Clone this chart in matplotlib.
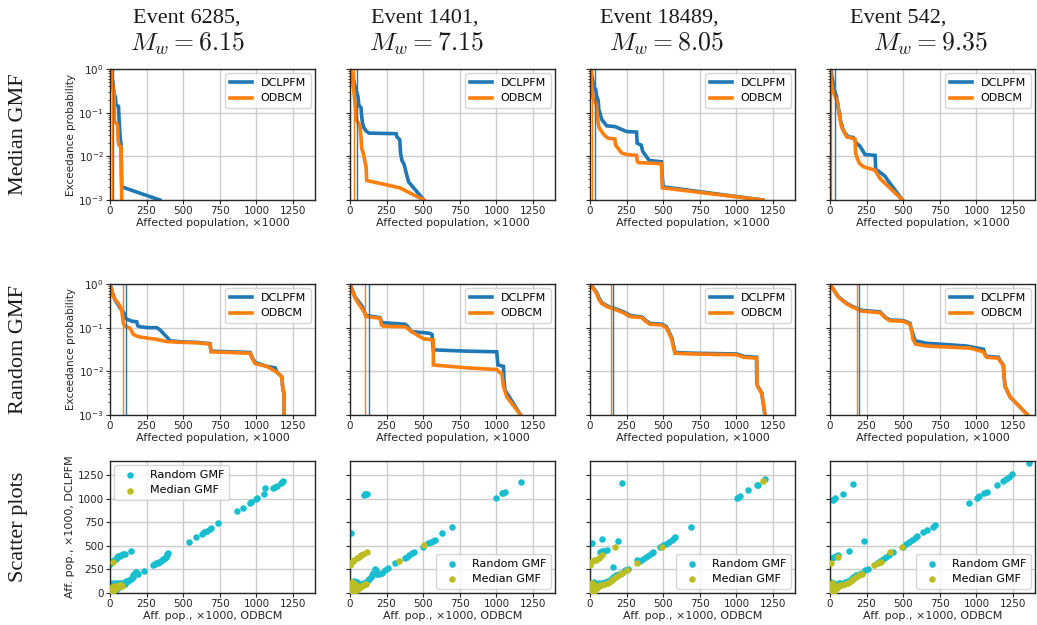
import matplotlib
matplotlib.use("Agg")
import matplotlib.pyplot as plt
import numpy as np

# ---------------- data ----------------
events = ["6285", "1401", "18489", "542"]
magnitudes = ["6.15", "7.15", "8.05", "9.35"]
row_labels = ["Median GMF", "Random GMF", "Scatter plots"]
model_names = ["DCLPFM", "ODBCM"]
scatter_names = ["Random GMF", "Median GMF"]
ticks_pop = [0, 250, 500, 750, 1000, 1250]

# Row 1: median GMF exceedance curves (x in thousands, p exceedance)
med_6285_d_x = [10, 12, 22, 24, 38, 40, 58, 62, 70, 75, 78, 80, 340]
med_6285_d_p = [1.0, 0.7, 0.45, 0.3, 0.22, 0.15, 0.14, 0.07, 0.025, 0.02, 0.005, 0.002, 0.001]
med_6285_o_x = [8, 10, 28, 30, 48, 52, 56, 62, 76, 80]
med_6285_o_p = [1.0, 0.6, 0.3, 0.062, 0.056, 0.05, 0.022, 0.018, 0.016, 0.001]

med_1401_d_x = [8, 12, 28, 34, 45, 55, 60, 75, 80, 86, 95, 110, 130, 315, 320, 340, 345, 355, 370, 378, 390, 400, 505]
med_1401_d_p = [1.0, 0.7, 0.5, 0.4, 0.3, 0.23, 0.15, 0.13, 0.08, 0.057, 0.045, 0.038, 0.034, 0.033, 0.028, 0.024,
                0.012, 0.008, 0.0065, 0.005, 0.0035, 0.0026, 0.001]
med_1401_o_x = [8, 10, 22, 28, 40, 46, 60, 68, 74, 80, 90, 96, 104, 110, 112, 114, 340, 505]
med_1401_o_p = [1.0, 0.7, 0.4, 0.28, 0.1, 0.068, 0.055, 0.05, 0.03, 0.015, 0.012, 0.0098, 0.007, 0.0058, 0.004,
                0.0028, 0.0019, 0.001]

med_18489_d_x = [8, 12, 22, 26, 40, 44, 56, 60, 68, 80, 91, 114, 170, 250, 318, 322, 350, 360, 399, 410, 488, 492, 500, 1180]
med_18489_d_p = [1.0, 0.7, 0.47, 0.4, 0.33, 0.25, 0.19, 0.12, 0.097, 0.07, 0.063, 0.05, 0.048, 0.037, 0.036, 0.02,
                 0.018, 0.013, 0.0085, 0.008, 0.0075, 0.004, 0.002, 0.001]
med_18489_o_x = [4, 6, 16, 20, 44, 48, 56, 62, 80, 100, 125, 170, 175, 194, 215, 251, 318, 322, 330, 488, 494, 1180]
med_18489_o_p = [1.0, 0.6, 0.3, 0.22, 0.15, 0.1, 0.057, 0.045, 0.037, 0.03, 0.026, 0.025, 0.018, 0.015, 0.012, 0.011,
                 0.0105, 0.0078, 0.0072, 0.0068, 0.0019, 0.001]

med_542_d_x = [8, 12, 26, 30, 45, 50, 66, 70, 90, 100, 125, 160, 180, 205, 239, 308, 312, 330, 376, 395, 410, 495]
med_542_d_p = [1.0, 0.7, 0.39, 0.33, 0.23, 0.15, 0.097, 0.07, 0.04, 0.035, 0.028, 0.027, 0.02, 0.017, 0.011, 0.0105,
               0.005, 0.0046, 0.0035, 0.0028, 0.0024, 0.001]
med_542_o_x = [4, 6, 18, 22, 55, 60, 78, 82, 114, 171, 175, 182, 200, 228, 308, 342, 495]
med_542_o_p = [1.0, 0.6, 0.33, 0.3, 0.164, 0.1, 0.05, 0.045, 0.028, 0.025, 0.012, 0.0098, 0.007, 0.0058, 0.0048,
               0.0031, 0.001]

# Row 2: random GMF exceedance curves
rnd_6285_d_x = [0, 20, 34, 50, 64, 80, 91, 100, 109, 150, 182, 190, 205, 260, 319, 340, 364, 390, 410, 500, 600, 683,
                690, 957, 970, 991, 1071, 1128, 1140, 1173, 1180, 1189, 1189]
rnd_6285_d_p = [1.0, 0.6, 0.43, 0.36, 0.3, 0.25, 0.23, 0.2, 0.16, 0.14, 0.137, 0.11, 0.105, 0.1, 0.1, 0.09, 0.074,
                0.06, 0.05, 0.047, 0.046, 0.043, 0.029, 0.027, 0.021, 0.016, 0.013, 0.012, 0.0095, 0.0075, 0.0041,
                0.003, 0.001]
rnd_6285_o_x = [0, 23, 40, 57, 75, 80, 91, 100, 137, 160, 194, 250, 319, 387, 500, 600, 683, 690, 957, 970, 991, 1071,
                1110, 1150, 1173, 1180, 1189, 1189]
rnd_6285_o_p = [1.0, 0.51, 0.42, 0.36, 0.28, 0.25, 0.126, 0.11, 0.097, 0.07, 0.062, 0.058, 0.054, 0.048, 0.046, 0.045,
                0.042, 0.028, 0.026, 0.02, 0.015, 0.013, 0.011, 0.009, 0.0075, 0.0041, 0.003, 0.001]

rnd_1401_d_x = [0, 34, 50, 68, 85, 103, 110, 205, 215, 223, 376, 390, 421, 500, 546, 560, 569, 800, 1002, 1010, 1048,
                1052, 1059, 1165]
rnd_1401_d_p = [1.0, 0.51, 0.43, 0.36, 0.3, 0.21, 0.19, 0.17, 0.14, 0.13, 0.12, 0.11, 0.081, 0.077, 0.074, 0.07,
                0.031, 0.029, 0.028, 0.014, 0.013, 0.006, 0.0037, 0.001]
rnd_1401_o_x = [0, 30, 57, 80, 103, 110, 205, 216, 230, 376, 390, 421, 500, 569, 569, 800, 1002, 1020, 1037, 1048,
                1071, 1165]
rnd_1401_o_p = [1.0, 0.52, 0.36, 0.28, 0.21, 0.18, 0.164, 0.115, 0.108, 0.105, 0.098, 0.081, 0.056, 0.052, 0.014,
                0.012, 0.011, 0.0095, 0.0089, 0.0045, 0.0026, 0.001]

rnd_18489_d_x = [0, 22, 48, 62, 82, 122, 162, 202, 230, 262, 275, 355, 382, 412, 492, 522, 537, 560, 568, 582, 700,
                 1002, 1052, 1137, 1139, 1145, 1173, 1195]
rnd_18489_d_p = [1.0, 0.82, 0.62, 0.47, 0.37, 0.31, 0.28, 0.25, 0.23, 0.2, 0.19, 0.175, 0.145, 0.125, 0.12, 0.105,
                 0.083, 0.057, 0.041, 0.027, 0.026, 0.025, 0.022, 0.021, 0.0052, 0.0046, 0.0032, 0.001]
rnd_18489_o_x = [0, 20, 46, 60, 80, 120, 160, 200, 228, 260, 273, 353, 380, 410, 490, 520, 535, 558, 566, 580, 700,
                 1002, 1050, 1139, 1141, 1145, 1173, 1195]
rnd_18489_o_p = [1.0, 0.8, 0.6, 0.45, 0.36, 0.3, 0.27, 0.24, 0.22, 0.19, 0.18, 0.17, 0.14, 0.12, 0.115, 0.1, 0.08,
                 0.055, 0.04, 0.026, 0.025, 0.024, 0.021, 0.02, 0.005, 0.0045, 0.0031, 0.001]

rnd_542_d_x = [0, 30, 57, 85, 114, 150, 182, 216, 342, 380, 410, 501, 546, 556, 562, 581, 660, 934, 1048, 1060, 1071,
               1150, 1160, 1184, 1188, 1196, 1230, 1350]
rnd_542_d_p = [1.0, 0.7, 0.51, 0.43, 0.36, 0.31, 0.28, 0.25, 0.23, 0.17, 0.15, 0.145, 0.126, 0.09, 0.08, 0.05, 0.044,
               0.038, 0.032, 0.024, 0.022, 0.021, 0.018, 0.014, 0.008, 0.0045, 0.0026, 0.001]
rnd_542_o_x = [0, 30, 57, 85, 114, 150, 182, 216, 342, 380, 410, 501, 546, 558, 566, 584, 660, 957, 1048, 1060, 1071,
               1150, 1160, 1184, 1188, 1196, 1230, 1350]
rnd_542_o_p = [1.0, 0.69, 0.5, 0.42, 0.35, 0.3, 0.27, 0.24, 0.22, 0.165, 0.145, 0.14, 0.12, 0.085, 0.055, 0.042,
               0.038, 0.034, 0.028, 0.023, 0.021, 0.02, 0.0175, 0.0135, 0.008, 0.0045, 0.0026, 0.001]

# Mean affected population (vertical lines): [DCLPFM, ODBCM]
med_means = [[22, 11], [46, 27], [36, 14], [32, 9]]
rnd_means = [[107, 87], [132, 102], [157, 143], [196, 182]]

# Row 3: scatter (x = ODBCM, y = DCLPFM)
sc_6285_r_x = [3, 10, 18, 28, 38, 48, 58, 68, 78, 90, 100, 140,
               2, 5, 8, 10, 15, 20, 25, 30, 35, 45, 50, 55, 60, 70, 80, 90, 100, 110, 120, 130, 140, 150, 155, 160,
               165, 170, 175, 180, 185, 190, 235, 20, 40, 60, 80, 100,
               295, 305, 315, 325, 335, 345, 355, 365, 375, 385, 390, 392, 395,
               540, 590, 630, 645, 660, 680, 690, 740, 870, 905, 955, 965, 995, 1005, 1050, 1060, 1110, 1125, 1140,
               1165, 1175, 1180]
sc_6285_r_y = [310, 320, 335, 350, 365, 378, 388, 395, 400, 410, 412, 450,
               5, 30, 60, 100, 110, 90, 100, 70, 105, 95, 40, 110, 80, 105, 90, 110, 120, 130, 125, 140, 150, 160,
               175, 190, 200, 215, 225, 220, 210, 200, 235, 20, 45, 62, 85, 100,
               300, 305, 315, 322, 330, 340, 350, 360, 372, 385, 400, 415, 425,
               540, 595, 630, 645, 660, 680, 690, 745, 865, 905, 955, 965, 995, 1010, 1050, 1115, 1115, 1125, 1140,
               1165, 1175, 1185]
sc_6285_m_x = [23, 2, 5, 8, 10, 12, 15, 18, 20, 25, 30, 35, 40, 45, 50, 55, 60, 65, 70, 75, 80]
sc_6285_m_y = [332, 3, 15, 25, 40, 55, 65, 20, 45, 70, 35, 55, 60, 50, 75, 60, 70, 80, 75, 80, 70]

sc_1401_r_x = [5, 95, 100, 105, 110, 115,
               2, 5, 8, 10, 15, 20, 25, 30, 35, 40, 45, 50, 60, 70, 80, 90, 100, 110, 120, 130, 140, 150, 160, 170,
               175, 185, 200, 220, 240, 260,
               307, 376, 390, 405, 420, 440, 501, 535, 550, 565, 580, 626, 695,
               1000, 1036, 1045, 1059, 1166]
sc_1401_r_y = [640, 1040, 1045, 1050, 1052, 1055,
               10, 50, 90, 120, 100, 110, 130, 60, 115, 100, 120, 90, 85, 95, 100, 105, 110, 115, 135, 150, 170, 190,
               210, 250, 240, 200, 200, 215, 240, 260,
               314, 367, 385, 405, 425, 440, 491, 527, 545, 555, 562, 632, 696,
               1005, 1057, 1065, 1074, 1173]
sc_1401_m_x = [2, 5, 8, 10, 12, 15, 20, 25, 30, 35, 40, 45, 50, 60, 70, 80, 90, 100, 110,
               3, 10, 20, 30, 45, 60, 75, 90, 114, 335, 508]
sc_1401_m_y = [5, 30, 60, 90, 120, 40, 70, 100, 20, 50, 80, 30, 60, 50, 65, 75, 85, 95, 100,
               300, 320, 340, 355, 370, 385, 400, 415, 431, 339, 505]

sc_18489_r_x = [11, 80, 194, 216, 68, 80, 95, 114,
                2, 5, 8, 10, 15, 20, 25, 30, 40, 50, 60, 70, 80, 100, 120, 140, 160, 160, 170, 180, 200, 220, 240, 260,
                319, 340, 360, 380, 400, 420, 433, 478, 500, 520, 540, 560, 575, 581, 690,
                1002, 1015, 1025, 1082, 1139, 1145, 1196]
sc_18489_r_y = [526, 569, 551, 1162, 438, 445, 450, 456,
                10, 40, 80, 100, 90, 110, 120, 70, 100, 95, 110, 100, 105, 115, 130, 150, 279, 170, 180, 190, 200, 215,
                240, 255,
                350, 340, 360, 385, 405, 425, 438, 491, 505, 520, 545, 565, 580, 597, 696,
                1010, 1020, 1031, 1092, 1145, 1150, 1205]
sc_18489_m_x = [2, 5, 8, 10, 15, 20, 25, 30, 40, 50, 60, 70, 80, 100, 120, 140, 160, 180, 200, 220, 250,
                3, 10, 25, 40, 60, 80, 171, 319, 490, 1180]
sc_18489_m_y = [5, 30, 60, 90, 110, 40, 80, 20, 60, 50, 70, 80, 85, 100, 110, 130, 150, 170, 190, 210, 240,
                300, 330, 345, 355, 370, 403, 491, 322, 491, 1187]

sc_542_r_x = [23, 28, 34, 91, 155, 11, 25, 40, 57, 132, 235,
              2, 5, 8, 10, 15, 20, 30, 40, 50, 60, 70, 80, 100, 120, 140, 160, 180, 200, 220, 240, 260,
              319, 340, 360, 380, 400, 433, 501, 520, 540, 560, 580, 592, 638, 660, 700, 718,
              952, 1002, 1020, 1050, 1071, 1139, 1184, 1200, 1220, 1241, 1362]
sc_542_r_y = [986, 995, 1004, 1049, 1152, 367, 380, 395, 403, 449, 551,
              10, 50, 100, 120, 90, 110, 70, 100, 95, 110, 105, 100, 120, 130, 150, 170, 190, 200, 215, 240, 255,
              322, 340, 360, 385, 405, 438, 491, 520, 545, 565, 580, 604, 650, 665, 705, 721,
              958, 1010, 1030, 1065, 1074, 1145, 1191, 1205, 1230, 1262, 1375]
sc_542_m_x = [2, 5, 8, 10, 15, 20, 25, 30, 40, 50, 60, 70, 80, 100, 120, 140, 160, 180, 200, 220,
              5, 57, 300, 330, 350, 410, 490]
sc_542_m_y = [5, 30, 60, 90, 110, 40, 80, 20, 60, 50, 70, 80, 85, 100, 110, 130, 150, 170, 190, 200,
              322, 378, 300, 322, 330, 438, 491]

med_curves = [
    (med_6285_d_x, med_6285_d_p, med_6285_o_x, med_6285_o_p),
    (med_1401_d_x, med_1401_d_p, med_1401_o_x, med_1401_o_p),
    (med_18489_d_x, med_18489_d_p, med_18489_o_x, med_18489_o_p),
    (med_542_d_x, med_542_d_p, med_542_o_x, med_542_o_p),
]
rnd_curves = [
    (rnd_6285_d_x, rnd_6285_d_p, rnd_6285_o_x, rnd_6285_o_p),
    (rnd_1401_d_x, rnd_1401_d_p, rnd_1401_o_x, rnd_1401_o_p),
    (rnd_18489_d_x, rnd_18489_d_p, rnd_18489_o_x, rnd_18489_o_p),
    (rnd_542_d_x, rnd_542_d_p, rnd_542_o_x, rnd_542_o_p),
]
scatters = [
    (sc_6285_r_x, sc_6285_r_y, sc_6285_m_x, sc_6285_m_y),
    (sc_1401_r_x, sc_1401_r_y, sc_1401_m_x, sc_1401_m_y),
    (sc_18489_r_x, sc_18489_r_y, sc_18489_m_x, sc_18489_m_y),
    (sc_542_r_x, sc_542_r_y, sc_542_m_x, sc_542_m_y),
]

# ---------------- style ----------------
plt.rcParams.update({
    "font.family": ["DejaVu Sans"],
    "mathtext.fontset": "cm",
    "axes.edgecolor": "#262626",
    "axes.linewidth": 1.0,
    "grid.color": "#cccccc",
    "grid.linewidth": 1.0,
    "xtick.color": "#262626",
    "ytick.color": "#262626",
    "xtick.labelsize": 7.5,
    "ytick.labelsize": 7.5,
    "xtick.major.size": 3,
    "ytick.major.size": 3,
    "ytick.minor.size": 1.8,
    "axes.labelcolor": "#262626",
})

BLUE = "#1f77b4"
ORANGE = "#ff7f0e"
CYAN = "#17becf"
OLIVE = "#bcbd22"
SERIF = ["Liberation Serif", "DejaVu Serif"]

W, H = 1037, 625
fig = plt.figure(figsize=(W / 100, H / 100), dpi=100)

lefts = [110, 350, 590, 830]
axw = 205
row_tb = [(69, 200), (284, 415), (461, 593)]
# title line centres (pixels) as laid out in the original
title1_cx = [187, 425, 659, 898]
title2_cx = [187, 426, 666, 930]


def make_ax(col, row):
    t, b = row_tb[row]
    return fig.add_axes([lefts[col] / W, 1 - b / H, axw / W, (b - t) / H])


XMAX = 1400

for c in range(4):
    for r, (curves, means) in enumerate([(med_curves, med_means), (rnd_curves, rnd_means)]):
        ax = make_ax(c, r)
        ax.set_axisbelow(True)
        ax.grid(True, which="major")
        dx, dp, ox, op = curves[c]
        ax.plot(dx, dp, color=BLUE, lw=2.6, label=model_names[0], solid_joinstyle="miter")
        ax.plot(ox, op, color=ORANGE, lw=2.6, label=model_names[1], solid_joinstyle="miter")
        ax.axvline(means[c][0], color=BLUE, lw=1.0)
        ax.axvline(means[c][1], color=ORANGE, lw=1.0)
        ax.set_yscale("log")
        ax.set_ylim(1e-3, 1)
        ax.set_xlim(0, XMAX)
        ax.set_xticks(ticks_pop)
        ax.set_xlabel("Affected population, \u00d71000", fontsize=8, labelpad=1)
        if c == 0:
            ax.set_ylabel("Exceedance probability", fontsize=7.5, labelpad=2)
        else:
            ax.tick_params(axis="y", which="both", labelleft=False)
        ax.tick_params(axis="x", pad=1.5)
        ax.tick_params(axis="y", pad=1.5)
        ax.legend(loc="upper right", fontsize=8, handlelength=2.0, borderaxespad=0.4)

    ax = make_ax(c, 2)
    ax.set_axisbelow(True)
    ax.grid(True)
    rx, ry, mx, my = scatters[c]
    ax.scatter(rx, ry, s=22, color=CYAN, linewidths=0, label=scatter_names[0], zorder=2)
    ax.scatter(mx, my, s=22, color=OLIVE, linewidths=0, label=scatter_names[1], zorder=3)
    ax.set_xlim(0, XMAX)
    ax.set_ylim(0, XMAX)
    ax.set_xticks(ticks_pop)
    ax.set_yticks(ticks_pop)
    ax.set_xlabel("Aff. pop., \u00d71000, ODBCM", fontsize=8, labelpad=1)
    ax.tick_params(axis="x", pad=1.5)
    ax.tick_params(axis="y", pad=1.5)
    if c == 0:
        ax.set_ylabel("Aff. pop., \u00d71000, DCLPFM", fontsize=8, labelpad=2)
        ax.legend(loc="upper left", fontsize=8, borderaxespad=0.4)
    else:
        ax.tick_params(axis="y", labelleft=False)
        ax.legend(loc="lower right", fontsize=8, borderaxespad=0.4)

# column titles
for c in range(4):
    fig.text(title1_cx[c] / W, 1 - 23 / H, f"Event {events[c]},", ha="center", va="baseline",
             fontsize=16, family=SERIF, color="#1a1a1a")
    fig.text(title2_cx[c] / W, 1 - 51 / H, f"$M_w = {magnitudes[c]}$", ha="center", va="baseline",
             fontsize=18.5, color="#1a1a1a")

# row labels
for r in range(3):
    t, b = row_tb[r]
    fig.text(19 / W, 1 - (t + b) / 2 / H, row_labels[r], rotation=90, ha="center", va="center",
             fontsize=16, family=SERIF, color="#1a1a1a")

fig.savefig("out.png", dpi=100)
